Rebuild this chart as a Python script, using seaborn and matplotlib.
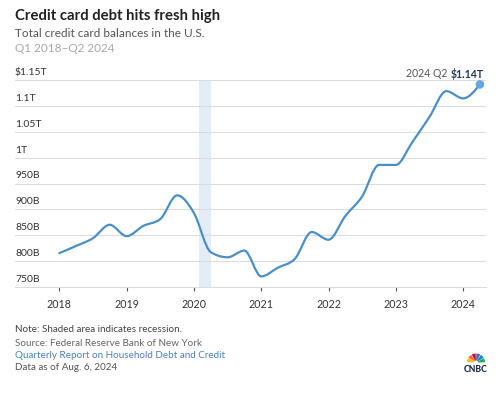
import numpy as np
import pandas as pd
import matplotlib
matplotlib.use("Agg")
import matplotlib.pyplot as plt
from matplotlib.path import Path
from matplotlib.patches import PathPatch, Wedge
import seaborn as sns

# ---------------- data ----------------
quarters = ["2018Q1", "2018Q2", "2018Q3", "2018Q4",
            "2019Q1", "2019Q2", "2019Q3", "2019Q4",
            "2020Q1", "2020Q2", "2020Q3", "2020Q4",
            "2021Q1", "2021Q2", "2021Q3", "2021Q4",
            "2022Q1", "2022Q2", "2022Q3", "2022Q4",
            "2023Q1", "2023Q2", "2023Q3", "2023Q4",
            "2024Q1", "2024Q2"]
balances_billions = [815, 829, 844, 870,
                     848, 868, 881, 927,
                     893, 817, 807, 820,
                     770, 787, 804, 856,
                     841, 887, 925, 986,
                     986, 1031, 1079, 1129,
                     1115, 1142]
ytick_values = [750, 800, 850, 900, 950, 1000, 1050, 1100, 1150]
ytick_labels = ["750B", "800B", "850B", "900B", "950B", "1T", "1.05T", "1.1T", "$1.15T"]
xtick_years = [2018, 2019, 2020, 2021, 2022, 2023, 2024]
recession_start = 2020.083
recession_end = 2020.25
end_label = "2024 Q2"
end_value_label = "$1.14T"

title = "Credit card debt hits fresh high"
subtitle = "Total credit card balances in the U.S."
period = "Q1 2018\u2013Q2 2024"
note = "Note: Shaded area indicates recession."
source = "Source: Federal Reserve Bank of New York"
link = "Quarterly Report on Household Debt and Credit"
asof = "Data as of Aug. 6, 2024"

df = pd.DataFrame({"quarter": quarters, "balance": balances_billions})
df["t"] = [int(q[:4]) + (int(q[-1]) - 1) / 4 for q in df["quarter"]]

# ---------------- style ----------------
sns.set_theme(style="white")
FONT = ["Lato", "DejaVu Sans"]
plt.rcParams["font.family"] = FONT

W, H = 501, 393
fig = plt.figure(figsize=(W / 100, H / 100), dpi=100)
fig.patch.set_facecolor("white")

def fx(px):
    return px / W

def fy(py):
    return 1 - py / H

ax_left, ax_right, ax_top, ax_bottom = 15, 486, 80.3, 286.7
ax = fig.add_axes([fx(ax_left), fy(ax_bottom), fx(ax_right - ax_left), (ax_bottom - ax_top) / H])
ax.set_facecolor("white")

x0_px, px_per_year = 59.3, 67.3
ax.set_xlim(2018 + (ax_left - x0_px) / px_per_year, 2018 + (ax_right - x0_px) / px_per_year)
ax.set_ylim(750, 1150)

# recession shading
ax.axvspan(recession_start, recession_end, color="#e4edf7", lw=0, zorder=0)

# gridlines
for v in ytick_values:
    ax.axhline(v, color="#dcdcdc", lw=0.8, zorder=1)

# smooth monotone-x curve (like d3.curveMonotoneX) built from the data points
xs = df["t"].to_numpy(float)
ys = df["balance"].to_numpy(float)
n = len(xs)
h = np.diff(xs)
s = np.diff(ys) / h
tang = np.zeros(n)
for i in range(1, n - 1):
    h0, h1 = h[i - 1], h[i]
    s0, s1 = s[i - 1], s[i]
    p = (s0 * h1 + s1 * h0) / (h0 + h1)
    tang[i] = (np.sign(s0) + np.sign(s1)) * min(abs(s0), abs(s1), 0.5 * abs(p))
tang[0] = (3 * s[0] - tang[1]) / 2
tang[-1] = (3 * s[-1] - tang[-2]) / 2
verts = [(xs[0], ys[0])]
codes = [Path.MOVETO]
for i in range(n - 1):
    dx = xs[i + 1] - xs[i]
    verts += [(xs[i] + dx / 3, ys[i] + dx * tang[i] / 3),
              (xs[i + 1] - dx / 3, ys[i + 1] - dx * tang[i + 1] / 3),
              (xs[i + 1], ys[i + 1])]
    codes += [Path.CURVE4] * 3
ax.add_patch(PathPatch(Path(verts, codes), fill=False, edgecolor="#4a8fcb", lw=1.6,
                       capstyle="round", joinstyle="round", zorder=3))

# end point marker
sns.scatterplot(data=df.tail(1), x="t", y="balance", ax=ax, s=38, color="#67a7de",
                edgecolor="none", zorder=4, legend=False, clip_on=False)

# y labels above grid lines, left aligned
ax.set_yticks([])
for v, lab in zip(ytick_values, ytick_labels):
    ax.annotate(lab, xy=(0, v), xycoords=("axes fraction", "data"), xytext=(0, 2.2),
                textcoords="offset points", ha="left", va="bottom", fontsize=7.5,
                color="#333333", family=FONT)

# x axis
ax.set_xticks(xtick_years)
ax.set_xticklabels([str(y) for y in xtick_years])
ax.tick_params(axis="x", length=3.2, width=0.8, color="#555555", pad=5.5, labelsize=7.7,
               labelcolor="#333333", direction="out", bottom=True)
for sp in ["top", "right", "left"]:
    ax.spines[sp].set_visible(False)
ax.spines["bottom"].set_color("#dcdcdc")
ax.spines["bottom"].set_linewidth(0.8)
ax.set_xlabel("")
ax.set_ylabel("")

# end annotation
renderer = fig.canvas.get_renderer()
t_val = fig.text(fx(484), fy(73.5), end_value_label, ha="right", va="center", fontsize=7.6,
                 fontweight="bold", color="#1d3a5a", family=FONT)
bb = t_val.get_window_extent(renderer=renderer)
fig.text(fx(484 - bb.width - 3), fy(73.5), end_label, ha="right", va="center", fontsize=7.6,
         color="#555555", family=FONT)

# header
fig.text(fx(15), fy(16), title, ha="left", va="center", fontsize=10.7, fontweight="bold",
         color="#222222", family=FONT)
fig.text(fx(15), fy(33.5), subtitle, ha="left", va="center", fontsize=8.5, color="#555555", family=FONT)
fig.text(fx(15), fy(48.5), period, ha="left", va="center", fontsize=8.5, color="#a8a8a8", family=FONT)

# footer
fig.text(fx(15), fy(329), note, ha="left", va="center", fontsize=7.1, color="#444444", family=FONT)
fig.text(fx(15), fy(343.5), source, ha="left", va="center", fontsize=7.1, color="#666666", family=FONT)
fig.text(fx(15), fy(356), link, ha="left", va="center", fontsize=7.1, color="#4a80c4", family=FONT)
fig.text(fx(15), fy(368), asof, ha="left", va="center", fontsize=7.1, color="#555555", family=FONT)

# CNBC logo (simplified peacock)
lax = fig.add_axes([fx(463), fy(372), fx(26), 22 / H])
lax.set_xlim(0, 26)
lax.set_ylim(22, 0)
lax.axis("off")
feather_colors = ["#fcb711", "#f37021", "#cc004c", "#6460aa", "#0089d0", "#0db14b"]
cx, cy = 13, 12.5
angles = np.linspace(180, 0, 7)
for i, c in enumerate(feather_colors):
    a1, a2 = angles[i + 1], angles[i]
    lax.add_patch(Wedge((cx, cy), 9.0, -a2 + 2, -a1 - 2, width=7.0, facecolor=c, edgecolor="none"))
lax.text(13, 19.2, "CNBC", ha="center", va="center", fontsize=6.2, fontweight="black",
         color="#1b2b4b", family=FONT)

fig.savefig("out.png", dpi=100, facecolor="white")
